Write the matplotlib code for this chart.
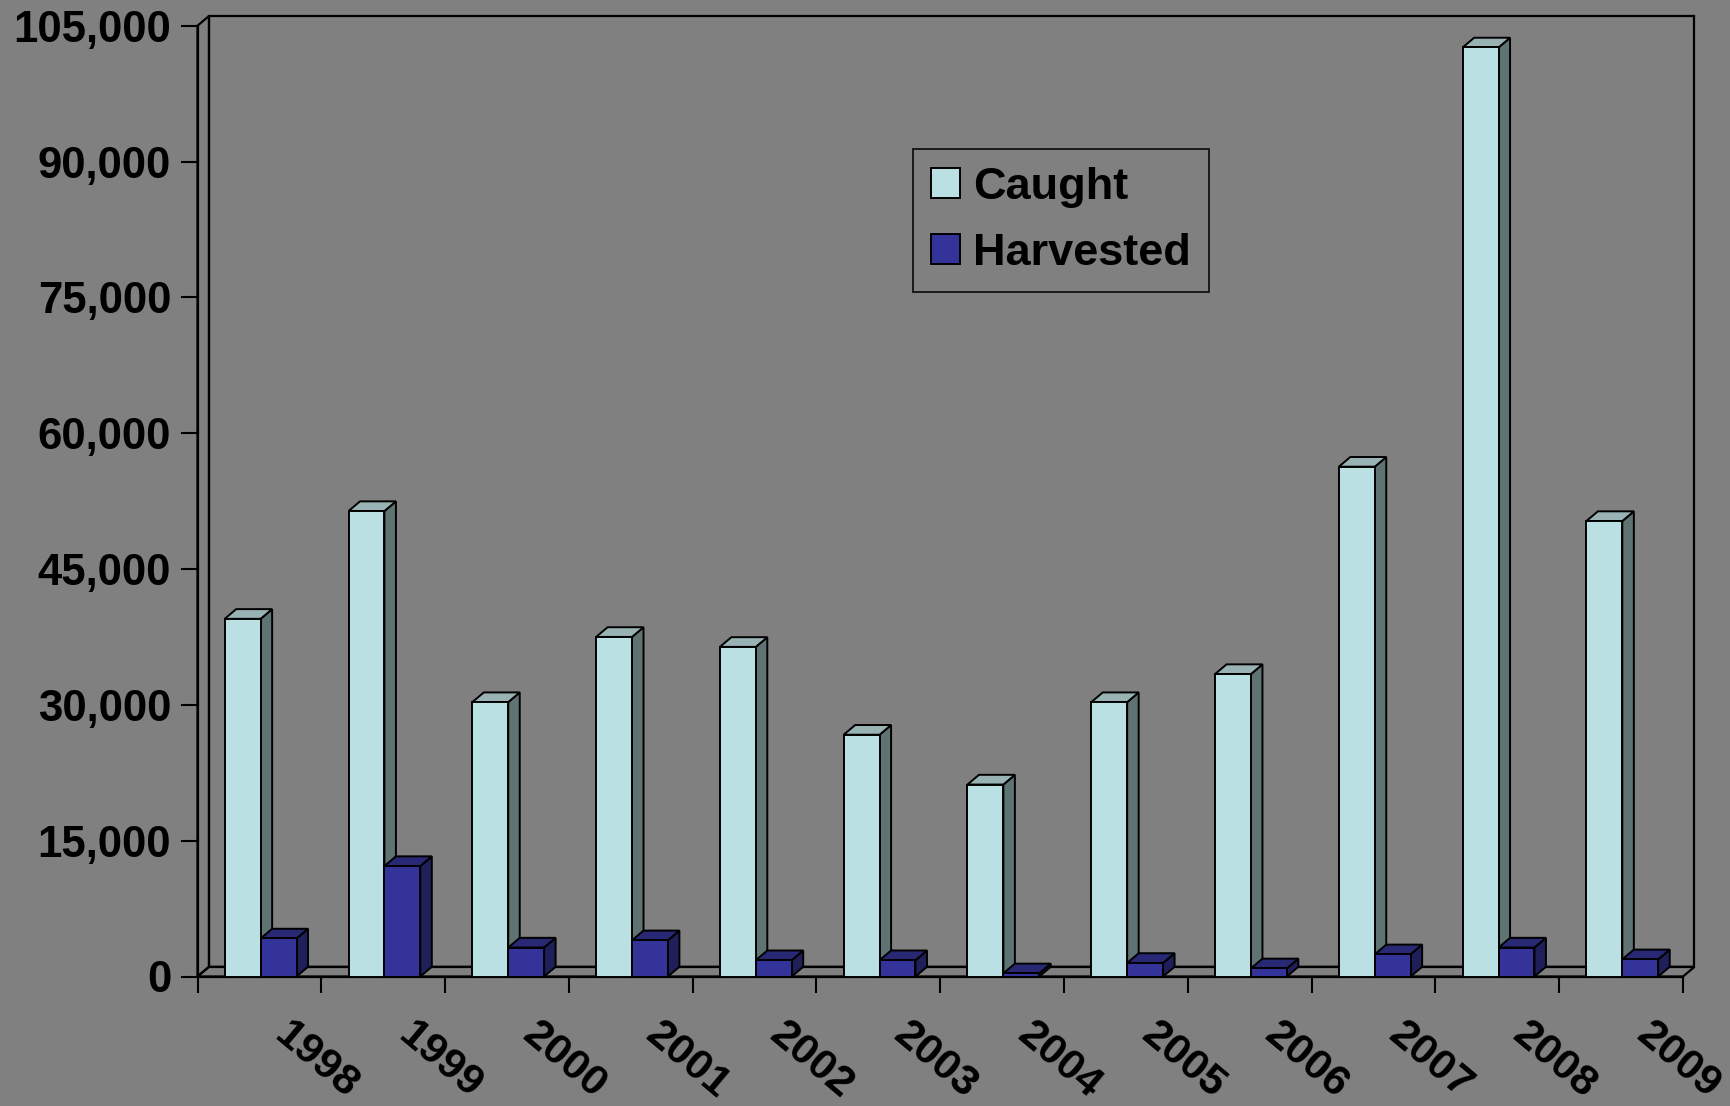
import matplotlib
matplotlib.use("Agg")
import matplotlib.pyplot as plt
from matplotlib.patches import Polygon, Patch
from matplotlib.ticker import FuncFormatter

years = ['1998', '1999', '2000', '2001', '2002', '2003',
         '2004', '2005', '2006', '2007', '2008', '2009']
caught = [39500, 51400, 30300, 37500, 36400, 26700,
          21200, 30300, 33400, 56300, 102600, 50300]
harvested = [4200, 12200, 3200, 4000, 1800, 1800,
             350, 1500, 900, 2450, 3200, 1900]
yticks = list(range(0, 105001, 15000))

bg = '#808080'
caught_cols = ('#BBE0E3', '#5F7373', '#99B3B5')     # front, side, top
harv_cols = ('#333399', '#1F1F5A', '#282874')

plt.rcParams['font.family'] = ['Liberation Sans', 'DejaVu Sans']
plt.rcParams['font.weight'] = 'bold'

fig = plt.figure(figsize=(17.3, 11.06), dpi=100, facecolor=bg)
ax = fig.add_axes([197.5 / 1730, 1 - 976.5 / 1106,
                   (1683 - 197.5) / 1730, (976.5 - 25.7) / 1106])
ax.set_facecolor('none')
ax.set_xlim(0, len(years))
ax.set_ylim(0, 105000)

# depth of the fake 3d box, in data units
dx = 11.5 / 123.8
dy = 9.7 * 105000 / 950.8
ymax = 105000
n = len(years)

lw = 1.6
# back wall, left wall, floor
ax.add_patch(Polygon([(dx, dy), (n + dx, dy), (n + dx, ymax + dy), (dx, ymax + dy)],
                     closed=True, fc='none', ec='black', lw=lw, clip_on=False, zorder=1))
ax.add_patch(Polygon([(0, 0), (dx, dy), (dx, ymax + dy), (0, ymax)],
                     closed=True, fc='none', ec='black', lw=lw, clip_on=False, zorder=1))
ax.add_patch(Polygon([(0, 0), (n, 0), (n + dx, dy), (dx, dy)],
                     closed=True, fc='none', ec='black', lw=lw, clip_on=False, zorder=1))


def bar3d(x0, w, h, cols, z):
    front, side, top = cols
    ax.add_patch(Polygon([(x0 + w, 0), (x0 + w + dx, dy), (x0 + w + dx, h + dy), (x0 + w, h)],
                         closed=True, fc=side, ec='black', lw=1.4, clip_on=False, zorder=z))
    ax.add_patch(Polygon([(x0, h), (x0 + w, h), (x0 + w + dx, h + dy), (x0 + dx, h + dy)],
                         closed=True, fc=top, ec='black', lw=1.4, clip_on=False, zorder=z))
    ax.bar(x0, h, width=w, align='edge', color=front, edgecolor='black',
           linewidth=1.4, clip_on=False, zorder=z + 0.1)


w = 0.29
for i in range(n):
    c = i + 0.51
    bar3d(c - w, w, caught[i], caught_cols, 3)
    bar3d(c, w, harvested[i], harv_cols, 4)

for s in ['top', 'right']:
    ax.spines[s].set_visible(False)
ax.spines['left'].set_linewidth(lw)
ax.spines['bottom'].set_linewidth(lw)

ax.set_yticks(yticks)
ax.yaxis.set_major_formatter(FuncFormatter(lambda v, p: f'{int(v):,}'))
ax.tick_params(axis='y', direction='out', length=12, width=1.5, pad=7,
               labelsize=31.5, colors='black')
ax.set_xticks(range(n + 1))
ax.set_xticklabels([])
ax.tick_params(axis='x', direction='out', length=11.5, width=1.5)
for lab in ax.get_yticklabels():
    lab.set_fontweight('bold')

for i, yr in enumerate(years):
    ax.annotate(yr, xy=(i + 1, 0), xycoords=('data', 'axes fraction'),
                xytext=(-5, -84), textcoords='offset pixels',
                rotation=-40, ha='center', va='center',
                fontsize=31, fontweight='bold', annotation_clip=False)

handles = [Patch(fc=caught_cols[0], ec='black', lw=1.4),
           Patch(fc=harv_cols[0], ec='black', lw=1.4)]
leg = fig.legend(handles, ['Caught', 'Harvested'], loc='upper left',
                 bbox_to_anchor=(913 / 1730, 1 - 149 / 1106),
                 prop={'size': 32.5, 'weight': 'bold'},
                 frameon=True, fancybox=False, facecolor=bg, edgecolor='black',
                 handlelength=0.64, handleheight=0.64, handletextpad=0.3,
                 labelspacing=0.55, borderpad=0.4, borderaxespad=0)
leg.get_frame().set_linewidth(1.4)

fig.savefig('out.png', dpi=100, facecolor=bg)
